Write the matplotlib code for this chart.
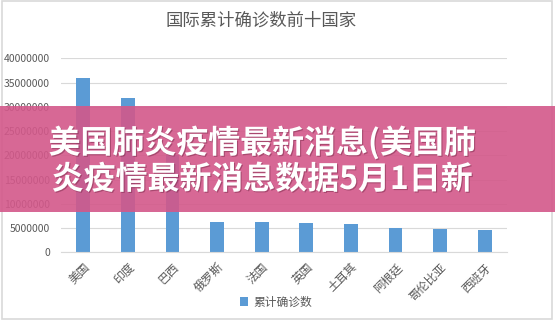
import matplotlib.pyplot as plt
import matplotlib.patheffects as pe
from matplotlib.patches import Rectangle

plt.rcParams['font.family'] = ['Noto Sans CJK SC', 'DejaVu Sans']

# 国际累计确诊数前十国家
countries = ['美国', '印度', '巴西', '俄罗斯', '法国', '英国', '土耳其', '阿根廷', '哥伦比亚', '西班牙']
confirmed = [35900000, 31800000, 20100000, 6300000, 6300000, 6100000, 5900000, 5060000, 4800000, 4600000]
yticks = [0, 5000000, 10000000, 15000000, 20000000, 25000000, 30000000, 35000000, 40000000]

title = '国际累计确诊数前十国家'
series_name = '累计确诊数'
banner_lines = ['美国肺炎疫情最新消息(美国肺', '炎疫情最新消息数据5月1日新']

gray = '#595959'
grid = '#d9d9d9'
blue = '#5b9bd5'

fig = plt.figure(figsize=(5.55, 3.21), dpi=100)
ax = fig.add_axes([0.110, 0.214, 0.8035, 0.6044])

x = range(len(countries))
ax.bar(x, confirmed, width=0.31, color=blue, label=series_name, zorder=2)

ax.set_xlim(-0.5, len(countries) - 0.5)
ax.set_ylim(0, 40000000)
ax.set_yticks(yticks)
ax.set_yticklabels([str(v) for v in yticks], fontsize=7.5, color=gray)
ax.set_xticks(list(x))
ax.set_xticklabels(countries, rotation=45, ha='right', va='top', fontsize=8.5,
                   color=gray, rotation_mode='anchor')
ax.tick_params(axis='both', length=0)
ax.tick_params(axis='y', pad=8)
ax.tick_params(axis='x', pad=6)
ax.grid(axis='y', color=grid, linewidth=0.8, zorder=0)
for s in ['top', 'right', 'left']:
    ax.spines[s].set_visible(False)
ax.spines['bottom'].set_color(grid)
ax.spines['bottom'].set_linewidth(0.8)

fig.text(0.471, 0.935, title, ha='center', va='center', fontsize=12.5, color=gray)

leg = fig.legend(loc='center', bbox_to_anchor=(0.497, 0.059), frameon=False,
                 fontsize=8.5, handlelength=0.7, handleheight=0.7, handletextpad=0.4)
for t in leg.get_texts():
    t.set_color(gray)

# chart border
fig.patches.append(Rectangle((0.003, 0.006), 0.992, 0.99, transform=fig.transFigure,
                             fill=False, edgecolor=grid, linewidth=1.2))

# pink banner over the chart
fig.patches.append(Rectangle((0, 1 - 212 / 321), 1, 106 / 321, transform=fig.transFigure,
                             facecolor='#d3588a', alpha=0.9, edgecolor='none', zorder=5))
shadow = [pe.withSimplePatchShadow(offset=(0.8, -0.8), shadow_rgbFace='#7a2a4a', alpha=0.5)]
for i, line in enumerate(banner_lines):
    fig.text(0.473, 1 - (143 + 37 * i) / 321, line, ha='center', va='center', fontsize=23,
             fontweight='bold', color='white', zorder=6, path_effects=shadow)

fig.savefig('out.png', dpi=100)
